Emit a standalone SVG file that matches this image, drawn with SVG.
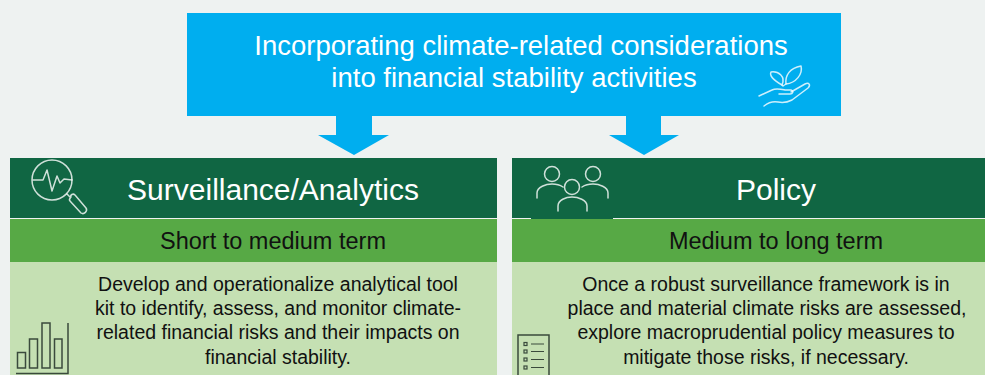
<svg xmlns="http://www.w3.org/2000/svg" width="985" height="375" viewBox="0 0 985 375">
<style>
text{font-family:"Liberation Sans",Arial,sans-serif;text-anchor:middle}
.t{font-size:27.5px;fill:#fff}
.h{font-size:30px;fill:#fff}
.s{font-size:23.5px;fill:#111}
.b{font-size:19.5px;fill:#111}
.wi{fill:none;stroke:#fff;stroke-opacity:.8;stroke-width:1.5;stroke-linecap:round;stroke-linejoin:round}
.di{fill:none;stroke:#3a4a3c;stroke-width:1.5}
</style>
<rect width="985" height="375" fill="#eef2f1"/>
<g id="connectors" fill="#00aeef">
<polygon points="336,116 372,116 372,135 389,135 354,155 318,135 336,135"/>
<polygon points="626,116 661,116 661,135 679,135 644,155 609,135 626,135"/>
</g>
<g id="top">
<rect x="187" y="13" width="654" height="103" fill="#00aeef"/>
<text class="t" x="521" y="55">Incorporating climate-related considerations</text>
<text class="t" x="514" y="87">into financial stability activities</text>
<g class="wi" stroke-width="1.2">
<path d="M782,85 C775,81 769,76 771,72 C778,71 786,76 782,85Z"/>
<path d="M786,84 C785,75 790,68 801,66 C803,74 796,83 786,84Z"/>
<path d="M782,85 L783,86 M786,84 L783,86"/>
<path d="M759,96 L772,90 C776,88 780,89 785,90 L791,90 C794,91 793,94 790,94 L779,94"/>
<path d="M791,92 L805,84 C809,82 811,85 808,88 L792,100 C788,102 783,103 778,102 C773,101 769,102 764,106"/>
</g>
</g>
<g id="surveillance">
<rect x="10" y="158" width="487" height="60" fill="#106643"/>
<rect x="10" y="219" width="487" height="43" fill="#57a945"/>
<rect x="10" y="262" width="487" height="113" fill="#c5e0b3"/>
<text class="h" x="273" y="200">Surveillance/Analytics</text>
<text class="s" x="273" y="249">Short to medium term</text>
<text class="b"><tspan x="278" y="291">Develop and operationalize analytical tool</tspan><tspan x="278" y="315">kit to identify, assess, and monitor climate-</tspan><tspan x="278" y="339">related financial risks and their impacts on</tspan><tspan x="278" y="364">financial stability.</tspan></text>
<g class="wi">
<circle cx="52" cy="180" r="20"/>
<path d="M33,180 L43,180 L47,170 L52,191 L57,176 L60,183 L64,179 L72,180"/>
<path d="M67,194 L70,197 M71,197 C70,195 73,193 75,195 L86,208 C88,211 84,215 81,213 L70,201 C69,200 70,198 71,197Z"/>
</g>
<g class="di">
<rect x="17.500" y="352.500" width="8" height="15.500"/>
<rect x="29.500" y="339" width="8" height="29"/>
<rect x="42" y="323" width="8" height="45"/>
<rect x="54.500" y="339" width="7.500" height="29"/>
<path d="M68,323 V373.500 H16"/>
</g>
</g>
<g id="policy">
<rect x="512" y="158" width="473" height="60" fill="#106643"/>
<rect x="512" y="219" width="473" height="43" fill="#57a945"/>
<rect x="512" y="262" width="473" height="113" fill="#c5e0b3"/>
<text class="h" x="776" y="200">Policy</text>
<text class="s" x="776" y="249">Medium to long term</text>
<text class="b"><tspan x="766" y="291">Once a robust surveillance framework is in</tspan><tspan x="767" y="315">place and material climate risks are assessed,</tspan><tspan x="766" y="339">explore macroprudential policy measures to</tspan><tspan x="766" y="364">mitigate those risks, if necessary.</tspan></text>
<g class="wi">
<circle cx="552" cy="174" r="7.500"/>
<circle cx="593" cy="174" r="7.500"/>
<circle cx="572" cy="187" r="7.500"/>
<path d="M537,198 V193 C537,187 546,184 552,184 C556,184 560,185 563,187"/>
<path d="M608,198 V193 C608,187 599,184 593,184 C589,184 585,185 582,187"/>
<path d="M558,211 V206 C558,200 566,197 572,197 C578,197 587,200 587,206 V211"/>
</g>
<rect x="531" y="218" width="82" height="1" fill="#106643"/>
<g class="di">
<path d="M518,375 V335 H549 V375"/>
<g stroke-width="1.200"><rect x="524" y="342.500" width="3" height="3"/><rect x="524" y="350" width="3" height="3"/><rect x="524" y="358" width="3" height="3"/><rect x="524" y="366" width="3" height="3"/>
<path d="M531,344 H544 M531,351.500 H544 M531,359.500 H544 M531,367.500 H544"/></g>
</g>
</g>
</svg>
